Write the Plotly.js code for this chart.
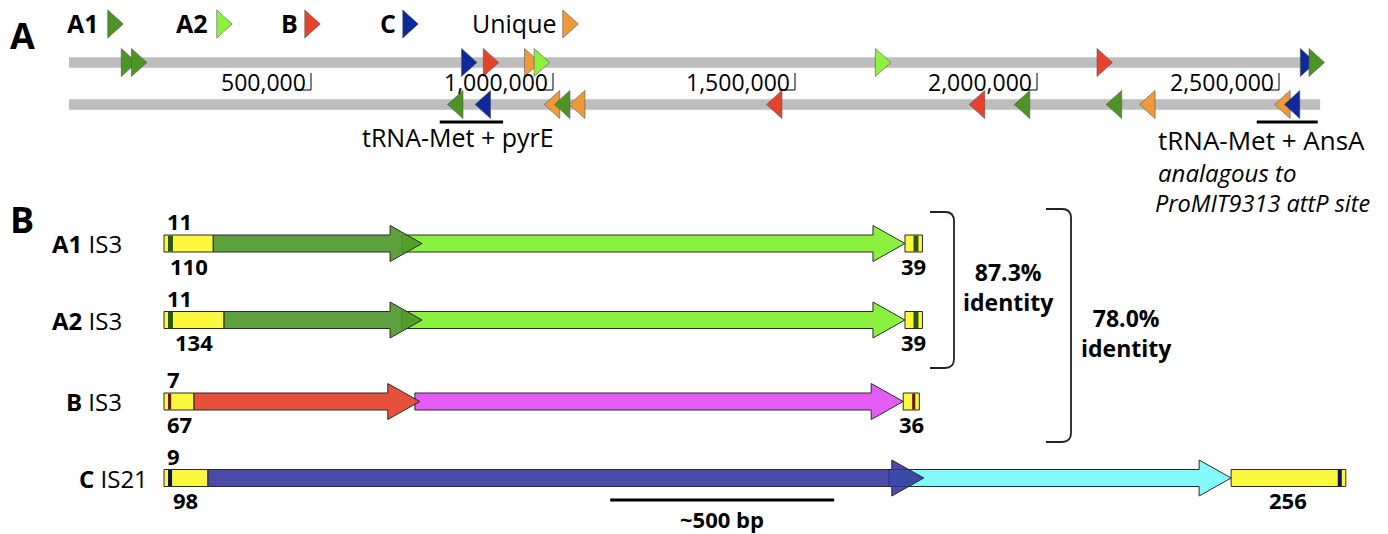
<!DOCTYPE html>
<html><head><meta charset="utf-8">
<script src="https://cdn.plot.ly/plotly-3.0.1.min.js"></script>
<style>body{margin:0;background:#fff}#chart{width:1388px;height:534px}</style>
</head><body><div id="chart"></div>
<script>
// ---------------- DATA ----------------
// Panel A: genome positions (bp)
const genomeLength = 2585000;
const tickValues = [500000, 1000000, 1500000, 2000000, 2500000];
const tickLabels = ['500,000', '1,000,000', '1,500,000', '2,000,000', '2,500,000'];
const legendKeys = ['A1', 'A2', 'B', 'C', 'Unique'];
const forwardType = ['A1', 'A1', 'C', 'B', 'Unique', 'A2', 'A2', 'B', 'C', 'A1'];
const forwardPos = [124000, 145000, 827000, 872000, 957000, 977000, 1682000, 2140000, 2560000, 2578000];
const reverseType = ['A1', 'C', 'Unique', 'A1', 'Unique', 'B', 'B', 'A1', 'A1', 'Unique', 'Unique', 'C'];
const reversePos = [798000, 855000, 998000, 1019000, 1050000, 1457000, 1876000, 1969000, 2159000, 2228000, 2507000, 2527000];
const siteLabels = ['tRNA-Met + pyrE', 'tRNA-Met + AnsA'];
const siteStart = [766000, 2454000];
const siteEnd = [897000, 2580000];
const siteNote = ['analagous to', 'ProMIT9313 attP site'];

// Panel B: IS element structure (bp)
const isNames = ['A1', 'A2', 'B', 'C'];
const isFamily = ['IS3', 'IS3', 'IS3', 'IS21'];
const leftNC = [110, 134, 67, 98];
const irLength = [11, 11, 7, 9];
const orfAEnd = [576, 576, 571, 1696];
const orfBStart = [531, 531, 560, 1618];
const orfBEnd = [1654, 1654, 1650, 2382];
const rightNC = [39, 39, 36, 256];
const identityLabels = ['87.3%', '78.0%'];
const scaleBarBp = 500;

// ---------------- STYLE / LAYOUT CONSTANTS ----------------
const W = 1388, H = 534;
const FONT = 'Open Sans, Noto Sans, sans-serif';
const gX0 = 69, gPx = 0.000484;     // genome axis: px at 0 bp, px per bp
const bX0 = 164, bPx = 0.448;       // IS axis: px at 0 bp, px per bp
const xRangeA = [-gX0 / gPx, (W - gX0) / gPx];
const xRangeB = [-bX0 / bPx, (W - bX0) / bPx];
const typeColor = {A1: '#4d9426', A2: '#8cf23f', B: '#e6432c', C: '#0e2a9a', Unique: '#f0993a'};
const trackY = [62.5, 104.5];
const barHalf = 5.2;
const triW = 15.5, triHalfH = 14;
const rowY = [243.5, 320, 401.5, 478];
const orfAColor = ['rgba(76,150,40,0.9)', 'rgba(76,150,40,0.9)', 'rgba(229,72,50,0.95)', 'rgba(48,50,155,0.88)'];
const orfBColor = ['#8af23e', '#8af23e', '#e35cf3', '#84f9f9'];
const stripeColor = ['#2b5614', '#2b5614', '#6a180b', '#0a1560'];
const yellow = '#fbf83d';
const outline = '#2a2a2a';
const bBarHalf = 8.5, bHeadHalf = 18, bHeadLen = 32;
const irOffset = 9;

const traces = [];
function poly(xs, ys, axis, fill, lineColor, lw) {
  traces.push({type: 'scatter', mode: 'lines', x: xs.concat([xs[0]]), y: ys.concat([ys[0]]),
    xaxis: axis, yaxis: 'y', fill: 'toself', fillcolor: fill,
    line: {color: lineColor, width: lw}, hoverinfo: 'skip', showlegend: false});
}
function tri(xc, yc, dir, axis, perPx, color) {
  const hw = triW / 2 / perPx;
  if (dir > 0) poly([xc - hw, xc + hw, xc - hw], [yc - triHalfH, yc, yc + triHalfH], axis, color, '#555', 0.6);
  else poly([xc + hw, xc - hw, xc + hw], [yc - triHalfH, yc, yc + triHalfH], axis, color, '#555', 0.6);
}

// ---- Panel A tracks ----
trackY.forEach(y => poly([0, genomeLength, genomeLength, 0], [y - barHalf, y - barHalf, y + barHalf, y + barHalf], 'x', '#bdbdbd', 'rgba(0,0,0,0)', 0));
forwardPos.forEach((p, i) => tri(p, trackY[0], 1, 'x', gPx, typeColor[forwardType[i]]));
reversePos.forEach((p, i) => tri(p, trackY[1], -1, 'x', gPx, typeColor[reverseType[i]]));

// legend keys (pixel axis x3)
const legendTriX = [115.5, 224.5, 312.5, 410.5, 570.5];
legendKeys.forEach((k, i) => tri(legendTriX[i], 24, 1, 'x3', 1, typeColor[k]));

// ---- Panel B elements ----
function rect(x0, x1, y, half, fill, lc, lw) {
  poly([x0, x1, x1, x0], [y - half, y - half, y + half, y + half], 'x2', fill, lc, lw);
}
function arrow(s, e, y, fill) {
  const hl = bHeadLen / bPx;
  poly([s, e - hl, e - hl, e, e - hl, e - hl, s],
       [y - bBarHalf, y - bBarHalf, y - bHeadHalf, y, y + bHeadHalf, y + bBarHalf, y + bBarHalf],
       'x2', fill, outline, 1);
}
isNames.forEach((n, i) => {
  const y = rowY[i];
  const endNC = orfBEnd[i] + rightNC[i];
  rect(0, leftNC[i], y, bBarHalf, yellow, outline, 1);
  rect(irOffset, irOffset + irLength[i], y, bBarHalf - 0.5, stripeColor[i], 'rgba(0,0,0,0)', 0);
  arrow(orfBStart[i], orfBEnd[i], y, orfBColor[i]);
  arrow(leftNC[i], orfAEnd[i], y, orfAColor[i]);
  rect(orfBEnd[i], endNC, y, bBarHalf, yellow, outline, 1);
  rect(endNC - irOffset - irLength[i], endNC - irOffset, y, bBarHalf - 0.5, stripeColor[i], 'rgba(0,0,0,0)', 0);
});

// ---------------- ANNOTATIONS ----------------
const anns = [];
function ann(text, x, y, size, o) {
  anns.push(Object.assign({text: text, x: x, y: y, xref: 'x3', yref: 'y', showarrow: false,
    xanchor: 'center', yanchor: 'middle', font: {family: FONT, size: size, color: '#000'}}, o || {}));
}
ann('<b>A</b>', 22, 35, 36);
ann('<b>B</b>', 22, 219, 36);
const legendLabelRight = [101, 210, 300, 398, 559];
legendKeys.forEach((k, i) => ann(k === 'Unique' ? k : '<b>' + k + '</b>', legendLabelRight[i], 23, 25, {xanchor: 'right'}));

const shapes = [];
tickValues.forEach((t, i) => {
  ann(tickLabels[i], t, 82, 23, {xref: 'x', xanchor: 'right', xshift: -3});
  shapes.push({type: 'line', xref: 'x', yref: 'y', x0: t, x1: t, y0: 73, y1: 90, line: {color: '#000', width: 1}});
  shapes.push({type: 'line', xref: 'x', yref: 'y', x0: t - 16 / gPx, x1: t, y0: 90, y1: 90, line: {color: '#000', width: 1}});
});
siteStart.forEach((s, i) => shapes.push({type: 'line', xref: 'x', yref: 'y', x0: s, x1: siteEnd[i], y0: 122, y1: 122, line: {color: '#000', width: 3}}));
ann(siteLabels[0], 458, 137, 25);
ann(siteLabels[1], 1156, 140, 26, {xanchor: 'left'});
ann('<i>' + siteNote[0] + '</i>', 1156, 172, 24, {xanchor: 'left'});
ann('<i>' + siteNote[1] + '</i>', 1153, 203, 23.5, {xanchor: 'left'});

isNames.forEach((n, i) => {
  const y = rowY[i];
  if (i < 3) ann('<b>' + n + '</b> ' + isFamily[i], 124, y, 24, {xanchor: 'right'});
  else ann('<b>' + n + '</b> ' + isFamily[i], 77, y, 24, {xanchor: 'left'});
  ann('<b>' + irLength[i] + '</b>', 0, y - 22.5, 22, {xref: 'x2', xanchor: 'left', xshift: 1});
  ann('<b>' + leftNC[i] + '</b>', leftNC[i] / 2, y + 22, 22, {xref: 'x2'});
  ann('<b>' + rightNC[i] + '</b>', orfBEnd[i] + rightNC[i] / 2, y + 22, 22, {xref: 'x2'});
});

// identity brackets
function bracket(x0, x1, y0, y1) {
  const r = 9;
  return {type: 'path', xref: 'x3', yref: 'y', line: {color: '#222', width: 1.8},
    path: `M${x0},${y0} L${x1 - r},${y0} Q${x1},${y0} ${x1},${y0 + r} L${x1},${y1 - r} Q${x1},${y1} ${x1 - r},${y1} L${x0},${y1}`};
}
shapes.push(bracket(930, 954, 212, 368));
shapes.push(bracket(1046, 1071, 209, 442));
ann('<b>' + identityLabels[0] + '<br>identity</b>', 1008, 287, 23);
ann('<b>' + identityLabels[1] + '<br>identity</b>', 1126, 333, 23);

// scale bar
const scaleStart = 996;
shapes.push({type: 'line', xref: 'x2', yref: 'y', x0: scaleStart, x1: scaleStart + scaleBarBp, y0: 500, y1: 500, line: {color: '#000', width: 3}});
ann('<b>~' + scaleBarBp + ' bp</b>', scaleStart + scaleBarBp / 2, 519, 22, {xref: 'x2'});

const layout = {
  width: W, height: H, margin: {l: 0, r: 0, t: 0, b: 0, pad: 0},
  paper_bgcolor: '#fff', plot_bgcolor: '#fff', showlegend: false,
  xaxis: {range: xRangeA, visible: false, fixedrange: true},
  xaxis2: {range: xRangeB, visible: false, overlaying: 'x', anchor: 'y', fixedrange: true},
  xaxis3: {range: [0, W], visible: false, overlaying: 'x', anchor: 'y', fixedrange: true},
  yaxis: {range: [H, 0], visible: false, fixedrange: true},
  annotations: anns, shapes: shapes,
  font: {family: FONT}
};
Plotly.newPlot('chart', traces, layout, {staticPlot: true, displayModeBar: false});
</script></body></html>
